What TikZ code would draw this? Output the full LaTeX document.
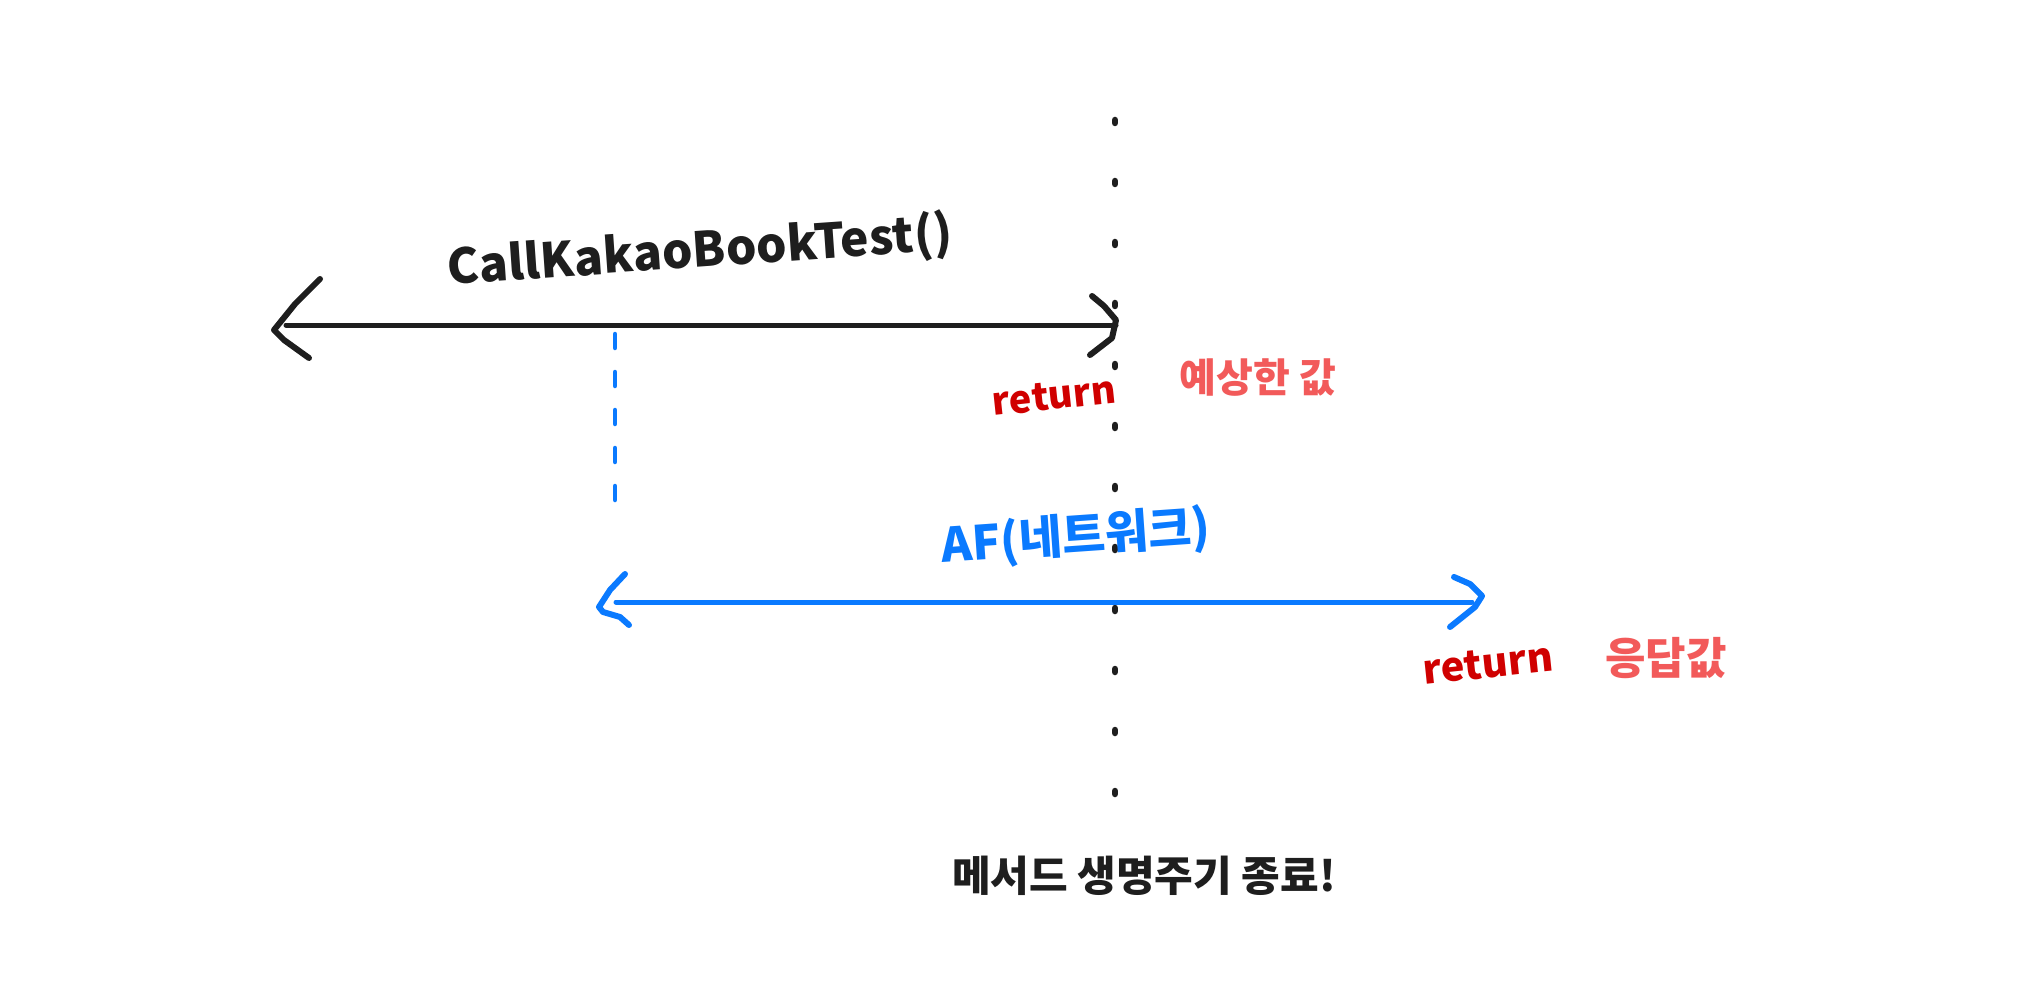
\documentclass[tikz,border=0pt]{standalone}
\usepackage{fontspec}
\setmainfont{Noto Sans CJK KR}
\definecolor{ink}{HTML}{1E1E1E}
\definecolor{blu}{HTML}{0A7AFF}
\definecolor{redd}{HTML}{D00000}
\definecolor{pink}{HTML}{F25A5A}
\begin{document}
\begin{tikzpicture}[x=1pt,y=-1pt,
  stroke/.style={line width=5pt,line cap=round,line join=round},
  head/.style={line width=6pt,line cap=round,line join=round},
  lbl/.style={inner sep=0pt,font=\fontsize{48}{52}\selectfont\bfseries},
  lifeline/.style={ink,line width=6.5pt,line cap=round,dash pattern=on 3pt off 58pt},
  bluedash/.style={blu,line width=4.5pt,line cap=round,dash pattern=on 14pt off 24pt}]
\fill[white] (0,0) rectangle (2021,1000);
\useasboundingbox (0,0) rectangle (2021,1000);
% coordinates
\coordinate (lifeTop) at (1115,120);
\coordinate (lifeBot) at (1115,800);
\coordinate (callL) at (286,325);
\coordinate (callR) at (1116,325);
\coordinate (afL) at (616,602);
\coordinate (afR) at (1472,602);
\coordinate (bdTop) at (615,334);
\coordinate (bdBot) at (615,522);
% lifeline
\draw[lifeline] (lifeTop) -- (lifeBot);
% blue dashed vertical
\draw[bluedash] (bdTop) -- (bdBot);
% black call arrow
\draw[ink,stroke] (callL) -- (callR);
\draw[ink,head] (320,279) -- (295,304) -- (274,330) -- (284,340) -- (309,358);
\draw[ink,head] (1092,296) -- (1104,306) -- (1116,320) -- (1112,338) -- (1090,355);
% blue AF arrow
\draw[blu,stroke] (afL) -- (afR);
\draw[blu,head] (625,574) -- (610,590) -- (599,607) -- (603,612) -- (620,617) -- (629,625);
\draw[blu,head] (1454,577) -- (1470,584) -- (1482,596) -- (1475,607) -- (1450,627);
% labels
\node[lbl,ink,rotate=4] (call) at (700,252) {CallKakaoBookTest()};
\node[lbl,redd,rotate=6,font=\fontsize{38}{40}\selectfont\bfseries] (ret1) at (1054,396) {return};
\node[lbl,pink,font=\fontsize{40}{44}\selectfont\bfseries] (exp1) at (1258,378) {예상한 값};
\node[lbl,blu,rotate=4,font=\fontsize{47}{50}\selectfont\bfseries] (af) at (1076,538) {AF(네트워크)};
\node[lbl,redd,rotate=6,font=\fontsize{40}{42}\selectfont\bfseries] (ret2) at (1488,664) {return};
\node[lbl,pink,font=\fontsize{44}{46}\selectfont\bfseries] (exp2) at (1666,658) {응답값};
\node[lbl,ink,font=\fontsize{42}{46}\selectfont\bfseries] (end) at (1144,876) {메서드 생명주기 종료!};
\end{tikzpicture}
\end{document}
